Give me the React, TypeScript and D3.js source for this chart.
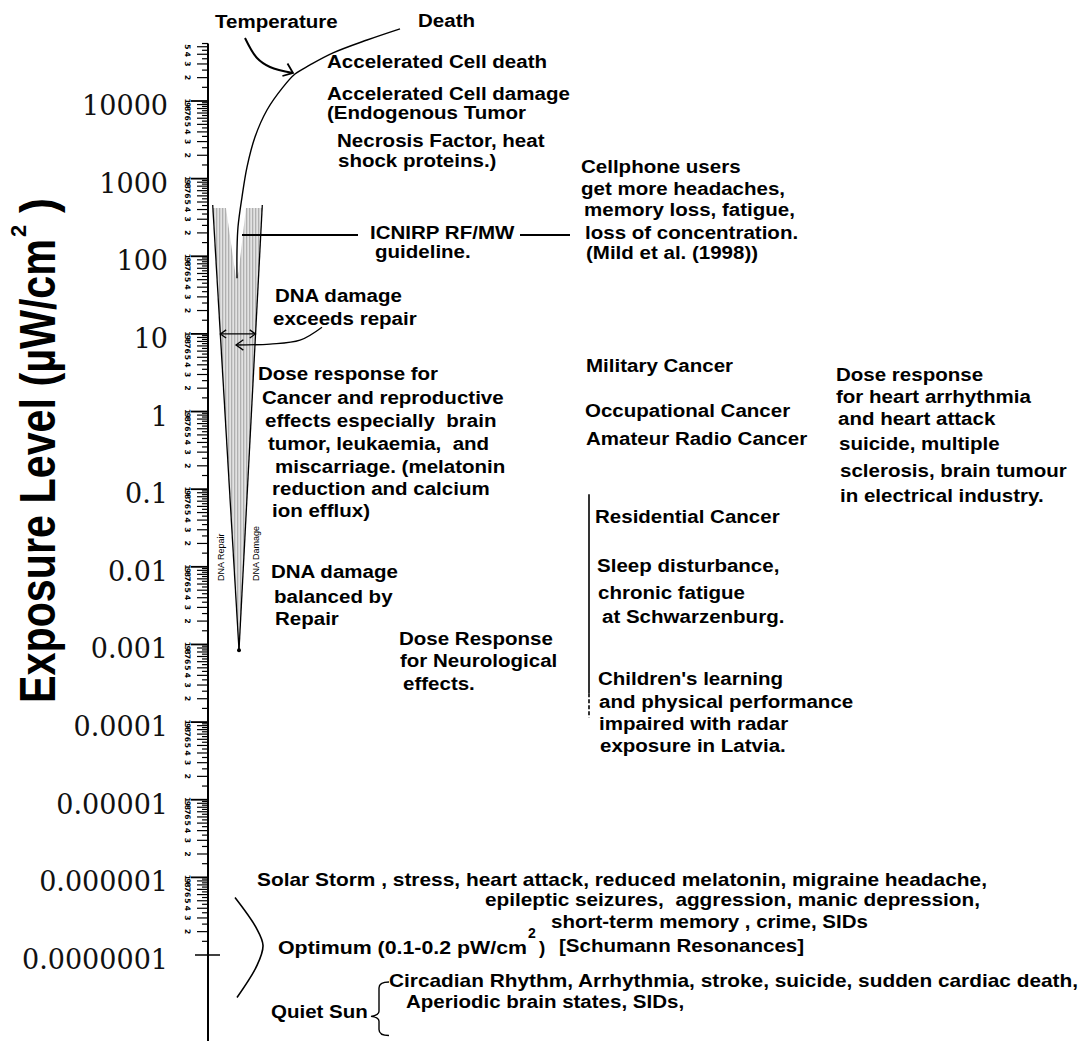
import React from "react";
import * as d3 from "d3";

const WIDTH = 1079;
const HEIGHT = 1041;

// ---------- Axis data ----------
const decadeValues = [1e4, 1e3, 1e2, 10, 1, 0.1, 0.01, 0.001, 0.0001, 0.00001, 0.000001, 0.0000001];
const decadeLabels = ["10000", "1000", "100", "10", "1", "0.1", "0.01", "0.001", "0.0001", "0.00001", "0.000001", "0.0000001"];
const decadeExponents = [-7, -6, -5, -4, -3, -2, -1, 0, 1, 2, 3, 4];
const minorMultipliers = [1.5, 2, 2.5, 3, 3.5, 4, 4.5, 5, 5.5, 6, 6.5, 7, 7.5, 8, 8.5, 9, 9.5];
const axisTopValue = 5.5e4;
const crossTickValue = 1e-7;

// ---------- Curves (horizontal px, exposure µW/cm²) ----------
const deathCurveX = [400, 367, 333, 310, 295, 283, 267, 255, 247, 242, 238, 237, 237];
const deathCurveV = [85000, 61000, 41600, 29100, 22300, 15100, 7660, 3440, 1410, 579, 238, 120, 52];

const tempArrowX = [245, 257, 270, 293];
const tempArrowV = [64900, 35800, 27400, 22960];

// Wedge (DNA repair / damage)
const wedgeTopValue = 418;
const wedgeTipValue = 0.00084;
const notchX = [226, 246, 238.5, 236];
const notchV = [418, 418, 62.5, 52.4];

const icnirpValue = 187.5;
const doubleArrowValue = 10;
const exceedsArrowX = [322, 300, 270, 236];
const exceedsArrowV = [12.2, 8.3, 7.4, 7.2];

const residentialLineSolid = [0.086, 0.000235];
const residentialLineDashed = [0.000235, 0.000115];

const optimumBracketX = [235, 256, 263, 257, 237];
const optimumBracketV = [5.52e-7, 2.27e-7, 1.33e-7, 7.34e-8, 2.84e-8];

const quietBraceV = [4.49e-8, 1.62e-8, 9.2e-9];

// ---------- Text annotations: [text, x, baseline] ----------
const annotations: [string, number, number][] = [
  ["Temperature", 215, 28],
  ["Death", 418, 27],
  ["Accelerated Cell death", 327, 68],
  ["Accelerated Cell damage", 327, 100],
  ["(Endogenous Tumor", 327, 119],
  ["Necrosis Factor, heat", 337, 147],
  ["shock proteins.)", 338, 167],
  ["ICNIRP RF/MW", 370, 239],
  ["guideline.", 375, 258],
  ["Cellphone users", 581, 173],
  ["get more headaches,", 581, 195],
  ["memory loss, fatigue,", 584, 216],
  ["loss of concentration.", 585, 239],
  ["(Mild et al. (1998))", 586, 259],
  ["DNA damage", 275, 302],
  ["exceeds repair", 273, 325],
  ["Dose response for", 258, 380],
  ["Cancer and reproductive", 262, 404],
  ["effects especially  brain", 265, 427],
  ["tumor, leukaemia,  and", 268, 450],
  ["miscarriage. (melatonin", 275, 473],
  ["reduction and calcium", 272, 495],
  ["ion efflux)", 272, 517],
  ["DNA damage", 271, 578],
  ["balanced by", 274, 603],
  ["Repair", 275, 625],
  ["Dose Response", 399, 645],
  ["for Neurological", 400, 667],
  ["effects.", 403, 690],
  ["Military Cancer", 586, 372],
  ["Occupational Cancer", 585, 417],
  ["Amateur Radio Cancer", 586, 445],
  ["Dose response", 836, 381],
  ["for heart arrhythmia", 836, 403],
  ["and heart attack", 838, 425],
  ["suicide, multiple", 839, 450],
  ["sclerosis, brain tumour", 840, 477],
  ["in electrical industry.", 840, 502],
  ["Residential Cancer", 595, 523],
  ["Sleep disturbance,", 597, 572],
  ["chronic fatigue", 598, 599],
  ["at Schwarzenburg.", 602, 623],
  ["Children's learning", 598, 685],
  ["and physical performance", 599, 708],
  ["impaired with radar", 599, 730],
  ["exposure in Latvia.", 600, 752],
  ["short-term memory , crime, SIDs", 551, 928],
  ["[Schumann Resonances]", 559, 952],
  ["Aperiodic brain states, SIDs,", 406, 1008],
  ["Quiet Sun", 271, 1018],
];

// long lines with fitted lengths: [text, x, baseline, length]
const fittedLines: [string, number, number, number][] = [
  ["Solar Storm , stress, heart attack, reduced melatonin, migraine headache,", 257, 886, 730],
  ["epileptic seizures,  aggression, manic depression,", 485, 906, 495],
  ["Circadian Rhythm, Arrhythmia, stroke, suicide, sudden cardiac death,", 389, 987, 689],
  ["Optimum (0.1-0.2 pW/cm", 278, 954, 249],
];

const SANS = "'Liberation Sans', Arial, Helvetica, sans-serif";
const FONT_SIZE = 19;
const STRETCH = 1.08;

function chevron(x: number, y: number, angleDeg: number, len = 9, spreadDeg = 32) {
  const a = (angleDeg * Math.PI) / 180;
  const s = (spreadDeg * Math.PI) / 180;
  const b1 = a + Math.PI - s;
  const b2 = a + Math.PI + s;
  return `M${x + len * Math.cos(b1)},${y + len * Math.sin(b1)}L${x},${y}L${x + len * Math.cos(b2)},${y + len * Math.sin(b2)}`;
}

export default function App() {
  const axisX = 208;
  const y = d3.scaleLog().domain([1e-7, 1e4]).range([955, 101]);

  const curve = (xs: number[], vs: number[], c: any = d3.curveCatmullRom.alpha(0.5)) =>
    d3
      .line<[number, number]>()
      .x((d) => d[0])
      .y((d) => y(d[1]))
      .curve(c)(xs.map((x, i) => [x, vs[i]] as [number, number])) || "";

  // minor ticks
  const minorTicks: { v: number; m: number }[] = [];
  decadeExponents.forEach((e) =>
    minorMultipliers.forEach((m) => {
      const v = m * Math.pow(10, e);
      if (v <= axisTopValue) minorTicks.push({ v, m });
    })
  );

  // wedge geometry
  const wTop = y(wedgeTopValue);
  const wTip = y(wedgeTipValue);
  const wLeft = 213;
  const wRight = 262;
  const wTipX = 239;
  const wedgePath = `M${wLeft},${wTop}L${wRight},${wTop}L${wTipX},${wTip}Z`;
  const edgeAt = (yy: number, xTop: number) => xTop + ((yy - wTop) / (wTip - wTop)) * (wTipX - xTop);
  const notchPath = "M" + notchX.map((x, i) => `${x},${y(notchV[i])}`).join("L") + "Z";

  const dy = y(doubleArrowValue);
  const daL = edgeAt(dy, wLeft);
  const daR = edgeAt(dy, wRight);

  const icY = y(icnirpValue);

  const bTop = y(quietBraceV[0]);
  const bMid = y(quietBraceV[1]);
  const bBot = y(quietBraceV[2]);
  const bracePath = `M389,${bTop} Q379,${bTop} 379,${bTop + 6} L379,${bMid - 5} Q379,${bMid - 1} 371,${bMid} Q379,${bMid + 1} 379,${bMid + 5} L379,${bBot - 6} Q379,${bBot} 389,${bBot}`;

  const tempLast = [tempArrowX[tempArrowX.length - 1], y(tempArrowV[tempArrowV.length - 1])];
  const exEnd = [exceedsArrowX[exceedsArrowX.length - 1], y(exceedsArrowV[exceedsArrowV.length - 1])];

  return (
    <svg
      width={WIDTH}
      height={HEIGHT}
      viewBox={`0 0 ${WIDTH} ${HEIGHT}`}
      style={{ position: "absolute", left: 0, top: 0, background: "#fff" }}
    >
      <defs>
        <pattern id="hatch" width="3" height="4" patternUnits="userSpaceOnUse">
          <rect width="3" height="4" fill="#e2e2e2" />
          <rect width="1.3" height="4" fill="#b0b0b0" />
        </pattern>
      </defs>
      <rect width={WIDTH} height={HEIGHT} fill="#fff" />

      {/* Y axis title */}
      <text
        transform={`translate(55,703) rotate(-90)`}
        fontFamily={SANS}
        fontWeight="bold"
        fontSize={50}
        textLength={464}
        lengthAdjust="spacingAndGlyphs"
        fill="#000"
      >
        Exposure  Level (µW/cm
      </text>
      <text transform={`translate(26,237) rotate(-90)`} fontFamily={SANS} fontWeight="bold" fontSize={22} fill="#000">
        2
      </text>
      <text
        transform={`translate(55,213) rotate(-90)`}
        fontFamily={SANS}
        fontWeight="bold"
        fontSize={50}
        textLength={15}
        lengthAdjust="spacingAndGlyphs"
        fill="#000"
      >
        )
      </text>

      {/* decade labels */}
      {decadeValues.map((v, i) => (
        <text
          key={"dl" + i}
          x={168}
          y={y(v) + 14}
          textAnchor="end"
          fontFamily="'DejaVu Serif', serif"
          fontSize={27}
          fill="#111"
        >
          {decadeLabels[i]}
        </text>
      ))}

      {/* axis line */}
      <line x1={axisX} x2={axisX} y1={y(axisTopValue)} y2={HEIGHT} stroke="#000" strokeWidth={2} />

      {/* minor ticks and tiny labels */}
      {minorTicks.map((t, i) => {
        const yy = y(t.v);
        const isInt = Number.isInteger(t.m);
        return (
          <g key={"mt" + i}>
            <line x1={axisX - (isInt ? 11 : 6)} x2={axisX} y1={yy} y2={yy} stroke="#000" strokeWidth={1.2} />
            {isInt && (
              <text
                x={187}
                y={yy}
                transform={`rotate(90,187,${yy})`}
                textAnchor="middle"
                dominantBaseline="central"
                fontFamily="'DejaVu Sans', sans-serif"
                fontWeight="bold"
                fontSize={7.5}
                fill="#000"
              >
                {t.m}
              </text>
            )}
          </g>
        );
      })}
      {decadeValues
        .filter((v) => v !== crossTickValue)
        .map((v, i) => {
          const yy = y(v);
          return (
            <g key={"dt" + i}>
              <line x1={axisX - 17} x2={axisX} y1={yy} y2={yy} stroke="#000" strokeWidth={1.8} />
              <text
                x={187}
                y={yy}
                transform={`rotate(90,187,${yy})`}
                textAnchor="middle"
                dominantBaseline="central"
                fontFamily="'DejaVu Sans', sans-serif"
                fontWeight="bold"
                fontSize={7.5}
                fill="#000"
              >
                1
              </text>
            </g>
          );
        })}
      <line x1={195} x2={220} y1={y(crossTickValue)} y2={y(crossTickValue)} stroke="#000" strokeWidth={1.5} />

      {/* wedge */}
      <path d={wedgePath} fill="url(#hatch)" stroke="none" />
      <path d={notchPath} fill="#fff" stroke="none" />
      <line x1={wLeft - 0.3} y1={wTop - 3} x2={wTipX} y2={wTip} stroke="#000" strokeWidth={1.3} />
      <line x1={wRight + 0.3} y1={wTop - 3} x2={wTipX} y2={wTip} stroke="#000" strokeWidth={1.3} />
      <circle cx={wTipX} cy={wTip} r={2} fill="#000" />

      {/* DNA Repair / Damage labels */}
      <text transform={`translate(224,581) rotate(-90)`} fontFamily={SANS} fontSize={9} fill="#000">
        DNA Repair
      </text>
      <text transform={`translate(258.5,581) rotate(-90)`} fontFamily={SANS} fontSize={9} fill="#000">
        DNA Damage
      </text>

      {/* double arrow at 10 */}
      <line x1={daL} x2={daR} y1={dy} y2={dy} stroke="#000" strokeWidth={1.3} />
      <path d={chevron(daL, dy, 180, 7, 35)} fill="none" stroke="#000" strokeWidth={1.3} />
      <path d={chevron(daR, dy, 0, 7, 35)} fill="none" stroke="#000" strokeWidth={1.3} />

      {/* exceeds repair arrow */}
      <path d={curve(exceedsArrowX, exceedsArrowV)} fill="none" stroke="#000" strokeWidth={1.3} />
      <path d={chevron(exEnd[0], exEnd[1], 180, 9, 35)} fill="none" stroke="#000" strokeWidth={1.3} />

      {/* death curve */}
      <path d={curve(deathCurveX, deathCurveV)} fill="none" stroke="#000" strokeWidth={1.4} />

      {/* temperature arrow */}
      <path d={curve(tempArrowX, tempArrowV)} fill="none" stroke="#000" strokeWidth={2} />
      <path d={chevron(tempLast[0], tempLast[1], 22, 11, 38)} fill="none" stroke="#000" strokeWidth={1.8} />

      {/* ICNIRP lines */}
      <line x1={242} x2={358} y1={icY} y2={icY} stroke="#000" strokeWidth={2} />
      <line x1={520} x2={570} y1={icY} y2={icY} stroke="#000" strokeWidth={2} />

      {/* residential vertical line */}
      <line
        x1={589}
        x2={589}
        y1={y(residentialLineSolid[0])}
        y2={y(residentialLineSolid[1])}
        stroke="#000"
        strokeWidth={1.6}
      />
      <line
        x1={589}
        x2={589}
        y1={y(residentialLineDashed[0])}
        y2={y(residentialLineDashed[1])}
        stroke="#000"
        strokeWidth={1.6}
        strokeDasharray="4,2"
      />

      {/* optimum bracket */}
      <path d={curve(optimumBracketX, optimumBracketV)} fill="none" stroke="#000" strokeWidth={1.6} />

      {/* quiet sun brace */}
      <path d={bracePath} fill="none" stroke="#000" strokeWidth={1.4} />

      {/* annotations */}
      {annotations.map(([t, x, yy], i) => (
        <text
          key={"a" + i}
          transform={`translate(${x},${yy}) scale(${STRETCH},1)`}
          fontFamily={SANS}
          fontWeight="bold"
          fontSize={FONT_SIZE}
          fill="#000"
          style={{ whiteSpace: "pre" }}
        >
          {t}
        </text>
      ))}
      {fittedLines.map(([t, x, yy, len], i) => (
        <text
          key={"f" + i}
          x={x}
          y={yy}
          fontFamily={SANS}
          fontWeight="bold"
          fontSize={FONT_SIZE}
          textLength={len}
          lengthAdjust="spacingAndGlyphs"
          fill="#000"
          style={{ whiteSpace: "pre" }}
        >
          {t}
        </text>
      ))}
      <text x={528} y={938} fontFamily={SANS} fontWeight="bold" fontSize={14} fill="#000">
        2
      </text>
      <text x={539} y={954} fontFamily={SANS} fontWeight="bold" fontSize={FONT_SIZE} fill="#000">
        )
      </text>
    </svg>
  );
}
